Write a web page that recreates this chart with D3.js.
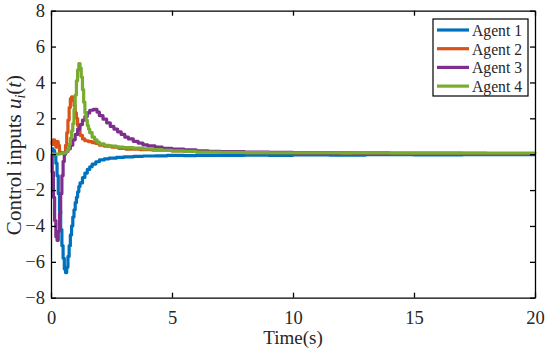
<!DOCTYPE html>
<html>
<head>
<meta charset="utf-8">
<script src="https://cdn.jsdelivr.net/npm/d3@7"></script>
<style>
  body { margin: 0; background: #fff; }
  svg { display: block; }
  text { font-family: "Liberation Serif", "Times New Roman", serif; fill: #262626; }
</style>
</head>
<body>
<div class="chart"></div>
<script>
// control inputs of the 4 agents, [time, u] pairs (sample-and-hold)
var agent1 = [[0,0.3],[0.08,0.2],[0.15,-0.1],[0.2,-0.5],[0.25,-1.2],[0.3,-2.2],[0.35,-3.2],[0.4,-4.2],[0.45,-5.1],[0.5,-5.8],[0.55,-6.4],[0.6,-6.6],[0.65,-6.3],[0.7,-5.7],[0.75,-5.1],[0.8,-4.5],[0.85,-4.0],[0.9,-3.5],[0.95,-3.1],[1.0,-2.7],[1.05,-2.4],[1.1,-2.1],[1.15,-1.8],[1.2,-1.6],[1.3,-1.3],[1.4,-1.05],[1.5,-0.85],[1.6,-0.7],[1.7,-0.55],[1.85,-0.42],[2.0,-0.32],[2.2,-0.26],[2.4,-0.22],[2.7,-0.18],[3.0,-0.15],[3.4,-0.12],[3.8,-0.1],[4.3,-0.09],[4.8,-0.07],[5.5,-0.08],[6.0,-0.06],[7,-0.07],[8,-0.05],[9,-0.06],[10,-0.04],[11.5,-0.05],[13,-0.03],[15,-0.04],[17,-0.03],[20,-0.03]];
var agent2 = [[0,0.75],[0.05,0.55],[0.1,0.8],[0.15,0.7],[0.2,0.4],[0.25,0.7],[0.3,0.5],[0.35,0.1],[0.45,0.05],[0.55,0.1],[0.6,0.5],[0.65,1.2],[0.7,1.9],[0.75,2.6],[0.8,3.1],[0.85,3.2],[0.9,3.0],[0.95,2.7],[1.0,2.3],[1.05,2.0],[1.1,1.6],[1.15,1.3],[1.2,1.05],[1.3,0.85],[1.4,0.75],[1.55,0.7],[1.7,0.65],[1.85,0.6],[2.0,0.5],[2.2,0.45],[2.5,0.4],[2.8,0.32],[3.1,0.28],[3.7,0.25],[4.2,0.22],[5.0,0.18],[5.5,0.16],[6.0,0.14],[7.0,0.11],[8.0,0.09],[9,0.08],[10,0.07],[12,0.06],[14,0.05],[17,0.04],[20,0.04]];
var agent3 = [[0,0],[0.05,-1.0],[0.1,-2.4],[0.15,-3.7],[0.2,-4.6],[0.25,-4.8],[0.3,-4.3],[0.35,-3.3],[0.4,-2.2],[0.45,-1.2],[0.5,-0.4],[0.55,0],[0.6,0.15],[0.7,0.3],[0.8,0.5],[0.9,0.8],[1.0,1.1],[1.1,1.4],[1.2,1.65],[1.3,1.9],[1.4,2.1],[1.5,2.3],[1.6,2.45],[1.75,2.5],[1.9,2.35],[2.0,2.15],[2.15,1.95],[2.3,1.75],[2.45,1.55],[2.6,1.4],[2.75,1.25],[2.9,1.1],[3.05,0.95],[3.2,0.85],[3.4,0.72],[3.6,0.62],[3.8,0.52],[4.0,0.46],[4.3,0.4],[4.6,0.33],[5.0,0.28],[5.5,0.24],[6.0,0.18],[6.5,0.16],[7.0,0.14],[8.0,0.12],[9.0,0.1],[10,0.09],[11,0.08],[12.5,0.06],[14,0.05],[16,0.05],[18,0.04],[20,0.04]];
var agent4 = [[0,0],[0.1,-0.02],[0.2,0],[0.3,0.02],[0.4,0.04],[0.5,0.06],[0.6,0.1],[0.65,0.2],[0.7,0.3],[0.75,0.55],[0.8,0.9],[0.85,1.3],[0.9,1.7],[0.95,2.5],[1.0,3.3],[1.05,4.1],[1.1,4.7],[1.15,5.05],[1.2,4.8],[1.25,4.3],[1.3,3.6],[1.35,2.9],[1.4,2.3],[1.45,1.9],[1.5,1.6],[1.55,1.4],[1.6,1.2],[1.7,0.95],[1.8,0.8],[1.9,0.68],[2.0,0.58],[2.2,0.5],[2.4,0.45],[2.7,0.4],[3.0,0.37],[3.4,0.34],[3.8,0.3],[4.2,0.26],[4.6,0.22],[5.0,0.19],[5.5,0.16],[6.0,0.12],[7,0.1],[8,0.09],[9,0.08],[10,0.08],[12,0.07],[14,0.06],[17,0.06],[20,0.05]];

var names = ["Agent 1", "Agent 2", "Agent 3", "Agent 4"];
var colors = ["#0072BD", "#D95319", "#7E2F8E", "#77AC30"];
var series = [agent1, agent2, agent3, agent4];
var xTicks = [0, 5, 10, 15, 20];
var yTicks = [-8, -6, -4, -2, 0, 2, 4, 6, 8];

var margin = {top: 10.7, right: 15, bottom: 54.3, left: 51},
    width = 550 - margin.left - margin.right,
    height = 352 - margin.top - margin.bottom;

var x = d3.scaleLinear().domain([0, 20]).range([0, width]);
var y = d3.scaleLinear().domain([-8, 8]).range([height, 0]);

var svg = d3.select(".chart").append("svg")
    .attr("width", 550)
    .attr("height", 352)
  .append("g")
    .attr("transform", "translate(" + margin.left + "," + margin.top + ")");

var line = d3.line()
    .curve(d3.curveStepAfter)
    .x(function(d) { return x(d[0]); })
    .y(function(d) { return y(d[1]); });

svg.selectAll(".series")
    .data(series)
  .enter().append("path")
    .attr("fill", "none")
    .attr("stroke", function(d, i) { return colors[i]; })
    .attr("stroke-width", 3.2)
    .attr("stroke-linejoin", "round")
    .attr("d", line);

// axes, ticks pointing inward on all four sides
svg.append("g")
    .attr("transform", "translate(0," + height + ")")
    .call(d3.axisBottom(x).tickValues(xTicks).tickSizeInner(-5).tickSizeOuter(0).tickPadding(13));
svg.append("g")
    .call(d3.axisLeft(y).tickValues(yTicks).tickSizeInner(-5).tickSizeOuter(0).tickPadding(6));
svg.append("g")
    .call(d3.axisTop(x).tickValues(xTicks).tickSizeInner(-5).tickSizeOuter(0).tickFormat(""));
svg.append("g")
    .attr("transform", "translate(" + width + ",0)")
    .call(d3.axisRight(y).tickValues(yTicks).tickSizeInner(-5).tickSizeOuter(0).tickFormat(""));

svg.selectAll(".domain").attr("stroke", "#000").attr("stroke-width", 1.3);
svg.selectAll(".tick line").attr("stroke", "#000").attr("stroke-width", 1.3);
svg.selectAll(".tick text")
    .style("font-family", "Liberation Serif")
    .style("font-size", "18.5px")
    .attr("fill", "#262626");

// axis labels
svg.append("text")
    .attr("x", width / 2)
    .attr("y", 344 - margin.top)
    .attr("text-anchor", "middle")
    .style("font-size", "19px")
    .text("Time(s)");

var yl = svg.append("text")
    .attr("transform", "translate(" + (21 - margin.left) + "," + (155 - margin.top) + ") rotate(-90)")
    .attr("text-anchor", "middle")
    .style("font-size", "21px");
yl.append("tspan").text("Control inputs ");
yl.append("tspan").style("font-style", "italic").text("u");
yl.append("tspan").style("font-style", "italic").style("font-size", "14px").attr("dy", 4).text("i");
yl.append("tspan").attr("dy", -4).text("(");
yl.append("tspan").style("font-style", "italic").text("t");
yl.append("tspan").text(")");

// legend
var legend = svg.append("g")
    .attr("transform", "translate(" + (433 - margin.left) + "," + (19 - margin.top) + ")");
legend.append("rect")
    .attr("width", 95)
    .attr("height", 77)
    .attr("fill", "#fff")
    .attr("stroke", "#000")
    .attr("stroke-width", 1.2);
var row = legend.selectAll(".row")
    .data(names)
  .enter().append("g")
    .attr("transform", function(d, i) { return "translate(0," + (11 + i * 18.7) + ")"; });
row.append("line")
    .attr("x1", 4).attr("x2", 36)
    .attr("stroke", function(d, i) { return colors[i]; })
    .attr("stroke-width", 3.2);
row.append("text")
    .attr("x", 39)
    .attr("dy", "0.35em")
    .attr("textLength", 50)
    .attr("lengthAdjust", "spacingAndGlyphs")
    .style("font-size", "17px")
    .text(function(d) { return d; });
</script>
</body>
</html>
